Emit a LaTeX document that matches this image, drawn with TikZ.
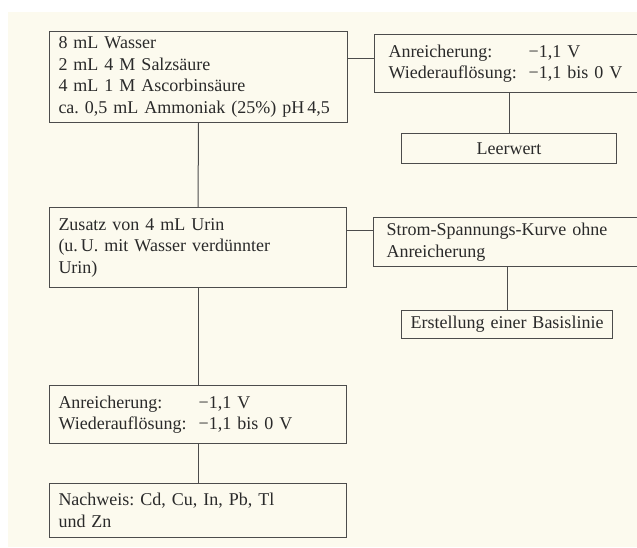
\documentclass[tikz,border=0pt]{standalone}
\usepackage{fontspec}
\setmainfont{Liberation Serif}
\definecolor{paper}{HTML}{FCFAEE}
\definecolor{ink}{HTML}{2A2A2A}
\definecolor{frame}{HTML}{4C4C4C}
\tikzset{
  box/.style={draw=frame, line width=1pt, rectangle, anchor=north west,
    align=left, inner xsep=9pt, inner ysep=0pt, text=ink,
    font=\fontsize{18}{21.5}\selectfont\frenchspacing},
  cbox/.style={box, align=center, inner xsep=4pt},
  link/.style={draw=frame, line width=1pt}
}
\newcommand{\volts}[2]{\begin{tabular}{@{}l@{\hspace{12pt}}l@{}}Anreicherung: & #1\\ Wiederauflösung: & #2\end{tabular}}
\begin{document}
\begin{tikzpicture}[x=1pt,y=-1pt]
  \useasboundingbox (0,0) rectangle (637,547);
  \clip (0,0) rectangle (637,547);
  \fill[white] (0,0) rectangle (637,547);
  \fill[paper] (8,12) rectangle (637,547);

  \node[box, minimum width=298pt, text width=280pt, minimum height=91pt] (b1) at (49,31)
    {8 mL Wasser\\2 mL 4 M Salzsäure\\4 mL 1 M Ascorbinsäure\\\mbox{ca. 0,5 mL Ammoniak (25\%) pH\,4,5}};
  \node[box, minimum width=297pt, text width=279pt, minimum height=80pt] (b2) at (49,207)
    {Zusatz von 4 mL Urin\\(u.\,U. mit Wasser verdünnter\\Urin)};
  \node[box, minimum width=297pt, text width=279pt, minimum height=58pt] (b3) at (49,385)
    {\volts{−1,1 V}{−1,1 bis 0 V}};
  \node[box, minimum width=297pt, text width=279pt, minimum height=54pt] (b4) at (49,483)
    {Nachweis: Cd, Cu, In, Pb, Tl\\und Zn};

  \node[box, inner xsep=14pt, minimum width=300pt, text width=272pt, minimum height=58pt] (r1) at (374,34)
    {\volts{−1,1 V}{−1,1 bis 0 V}};
  \node[cbox, minimum width=215pt, text width=207pt, minimum height=30pt] (lw) at (401,133)
    {Leerwert};
  \node[box, inner xsep=13pt, minimum width=300pt, text width=274pt, minimum height=49pt] (r2) at (373,217)
    {Strom-Spannungs-Kurve ohne\\Anreicherung};
  \node[cbox, minimum width=211pt, text width=203pt, minimum height=28pt] (bl) at (401,310)
    {Erstellung einer Basislinie};

  \coordinate (c1) at (0,58);
  \coordinate (c2) at (0,230);

  \draw[link] (b1.south) -- (b2.north);
  \draw[link] (b2.south) -- (b3.north);
  \draw[link] (b3.south) -- (b4.north);
  \draw[link] (b1.east |- c1) -- (r1.west |- c1);
  \draw[link] (b2.east |- c2) -- (r2.west |- c2);
  \draw[link] (lw.north) -- (lw.north |- r1.south);
  \draw[link] (bl.north) -- (bl.north |- r2.south);
\end{tikzpicture}
\end{document}
